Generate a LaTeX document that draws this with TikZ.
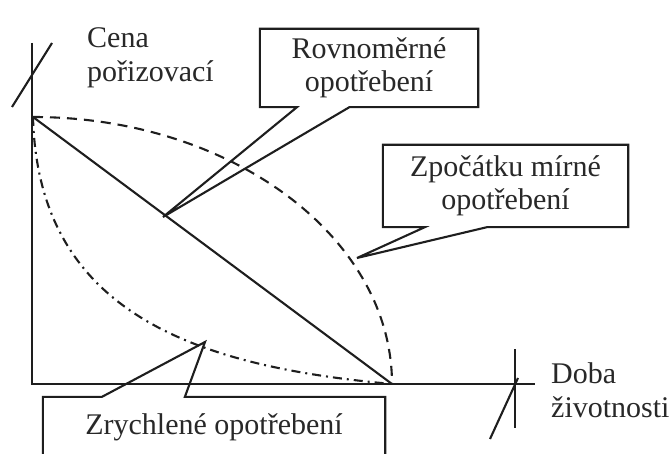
\documentclass[tikz,border=0pt]{standalone}
\usepackage{fontspec}
\setmainfont{Liberation Serif}
\usepackage{tikz}
\usetikzlibrary{calc, positioning}
\definecolor{InkBlack}{RGB}{30, 30, 30}
\definecolor{TextGrey}{RGB}{40, 40, 40}
\tikzset{
  axisline/.style={InkBlack, line width=2.5pt},
  curveline/.style={InkBlack, line width=2.1pt},
  calloutbox/.style={align=center, font=\fontsize{30}{33}\selectfont, text=TextGrey, inner sep=0pt},
  axislabel/.style={align=left, font=\fontsize{30}{34}\selectfont, text=TextGrey, inner sep=0pt},
}

\begin{document}
\begin{tikzpicture}[x=1pt, y=-1pt]
    \clip (0,0) rectangle (672,454);
    % Osy
    \coordinate (O) at (32,384);
    \coordinate (ytop) at (32,43);
    \coordinate (xend) at (535,384);
    \draw[axisline] (ytop) -- (O) -- (xend);
    \node[axislabel, anchor=base west] (cena) at (87,82) {Cena\\pořizovací};
    \node[axislabel, anchor=base west] (doba) at (551,417) {Doba\\životnosti};
    
    % Přerušení os
    \draw[curveline] (12,107) -- (52,43);
    \draw[curveline] (515,349) -- (515,428);
    \draw[curveline] (490,439) -- (518,378);
    
    % Průběhy opotřebení
    \coordinate (C) at (33,117);
    \coordinate (E) at (392,384);
    \draw[curveline] (C) -- (E);
    \draw[curveline, dash pattern=on 10pt off 7pt] (C) .. controls +(198,0) and +(0,-147) .. (E);
    \draw[curveline, dash pattern=on 9pt off 5pt on 2pt off 5pt] (C) .. controls (38,310) and (190,366) .. (E);
    
    % Rovnoměrné opotřebení
    \node[calloutbox, minimum width=218pt, minimum height=78pt] (rovn) at (369,68) {Rovnoměrné\\opotřebení};
    \coordinate (rovtip) at (163,217);
    \draw[curveline] (rovn.north west) -- (rovn.north east) -- (rovn.south east)
        -- ($(rovn.south west)!0.41!(rovn.south east)$) -- (rovtip)
        -- ($(rovn.south west)!0.17!(rovn.south east)$) -- (rovn.south west) -- cycle;
    
    % Zpočátku mírné opotřebení
    \node[calloutbox, minimum width=245pt, minimum height=82pt] (mirne) at (505.5,186) {Zpočátku mírné\\opotřebení};
    \coordinate (mirtip) at (357,258);
    \draw[curveline] (mirne.north west) -- (mirne.north east) -- (mirne.south east)
        -- ($(mirne.south west)!0.424!(mirne.south east)$) -- (mirtip)
        -- ($(mirne.south west)!0.171!(mirne.south east)$) -- (mirne.south west) -- cycle;
    
    % Zrychlené opotřebení
    \node[calloutbox, minimum width=342pt, minimum height=60pt] (zrych) at (214,427) {Zrychlené opotřebení};
    \coordinate (zrytip) at (205,342);
    \draw[curveline] (zrych.north west) -- ($(zrych.north west)!0.173!(zrych.north east)$)
        -- (zrytip) -- ($(zrych.north west)!0.415!(zrych.north east)$)
        -- (zrych.north east) -- (zrych.south east) -- (zrych.south west) -- cycle;
\end{tikzpicture}
\end{document}
